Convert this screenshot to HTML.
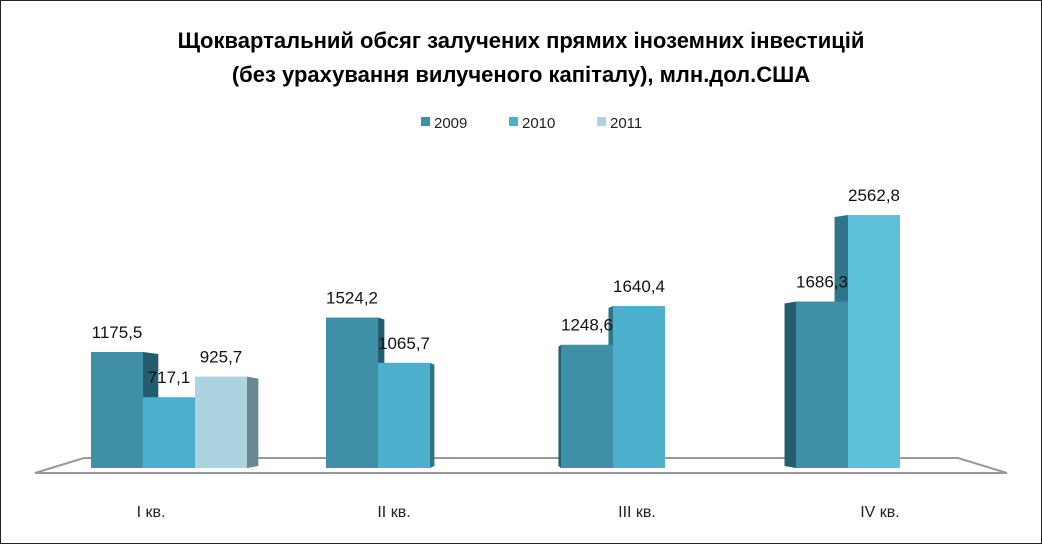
<!DOCTYPE html>
<html><head><meta charset="utf-8"><style>
body{margin:0;background:#fff}
svg{display:block;font-family:"Liberation Sans","DejaVu Sans",sans-serif}
</style></head><body>
<svg width="1042" height="544" viewBox="0 0 1042 544" id="chart">
<rect x="0.5" y="0.5" width="1041" height="543" fill="#fff" stroke="#222"/>
<text x="521" y="48" text-anchor="middle" font-size="22" font-weight="bold">Щоквартальний обсяг залучених прямих іноземних інвестицій</text>
<text x="521" y="82" text-anchor="middle" font-size="22" font-weight="bold">(без урахування вилученого капіталу), млн.дол.США</text>
<g id="legend"></g>
<polygon points="84,458 958,458 1007,473 35,473" fill="#fff" stroke="#999" stroke-width="2"/>
<g id="bars"></g>
<g id="labels"></g>
</svg>
<script>
const categories = ["I кв.", "II кв.", "III кв.", "IV кв."];
const seriesNames = ["2009", "2010", "2011"];
const v2009 = [1175.5, 1524.2, 1248.6, 1686.3];
const v2010 = [717.1, 1065.7, 1640.4, 2562.8];
const v2011 = [925.7, null, null, null];
const valueLabels2009 = ["1175,5", "1524,2", "1248,6", "1686,3"];
const valueLabels2010 = ["717,1", "1065,7", "1640,4", "2562,8"];
const valueLabels2011 = ["925,7", "", "", ""];

const NS = "http://www.w3.org/2000/svg";
const colors = ["#3f90a7", "#4cb0cc", "#abd3e0"];
const sideColors = ["#245e6e", "#2f7489", "#6a8892"];
const baseY = 468, scale = 253 / 2562.8, barW = 52;
const groupX = i => 91 + i * 235;
const yPos = v => baseY - v * scale;
const bars = document.getElementById("bars");
const labels = document.getElementById("labels");
const legend = document.getElementById("legend");
const series = [v2009, v2010, v2011];
const vlabels = [valueLabels2009, valueLabels2010, valueLabels2011];
function mk(tag, attrs, parent) { const e = document.createElementNS(NS, tag); for (const k in attrs) e.setAttribute(k, attrs[k]); parent.appendChild(e); return e; }

// legend
seriesNames.forEach((n, s) => {
  const lx = 421 + s * 88;
  const r = mk("rect", {x: lx, y: 117, width: 9, height: 9, fill: colors[s]}, legend);
  
  
  const t = mk("text", {x: lx + 13, y: 128, "font-size": 15, fill: "#222"}, legend);
  t.textContent = n;
  
  
});

categories.forEach((c, i) => {
  for (let s = 2; s >= 0; s--) {
    const v = series[s][i];
    if (v == null) continue;
    const x = groupX(i) + s * barW, y = yPos(v);
    const cx = x + barW / 2;
    const d = (520 - cx) * 0.038;
    let side;
    if (d > 0) side = `${x+barW},${y} ${x+barW+d},${y+2} ${x+barW+d},${baseY-2} ${x+barW},${baseY}`;
    else side = `${x},${y} ${x+d},${y+2} ${x+d},${baseY-2} ${x},${baseY}`;
    const sp = mk("polygon", {points: side, fill: sideColors[s]}, bars);
    
    
  }
  for (let s = 0; s < 3; s++) {
    const v = series[s][i];
    if (v == null) continue;
    const x = groupX(i) + s * barW, y = yPos(v);
    const fill = (i === 3 && s === 1) ? "#5ec1dc" : colors[s];
    const r = mk("rect", {x: x, y: y, width: barW, height: baseY - y, fill: fill}, bars);
    
    
    const t = mk("text", {x: x + barW / 2, y: y - 14, "text-anchor": "middle", "font-size": 17, fill: "#111"}, labels);
    t.textContent = vlabels[s][i];
    
    
  }
  const lt = mk("text", {x: groupX(i) + 60 + i * 8, y: 517, "text-anchor": "middle", "font-size": 16, fill: "#222"}, labels);
  lt.textContent = c;
  
  
});
</script>
</body></html>
